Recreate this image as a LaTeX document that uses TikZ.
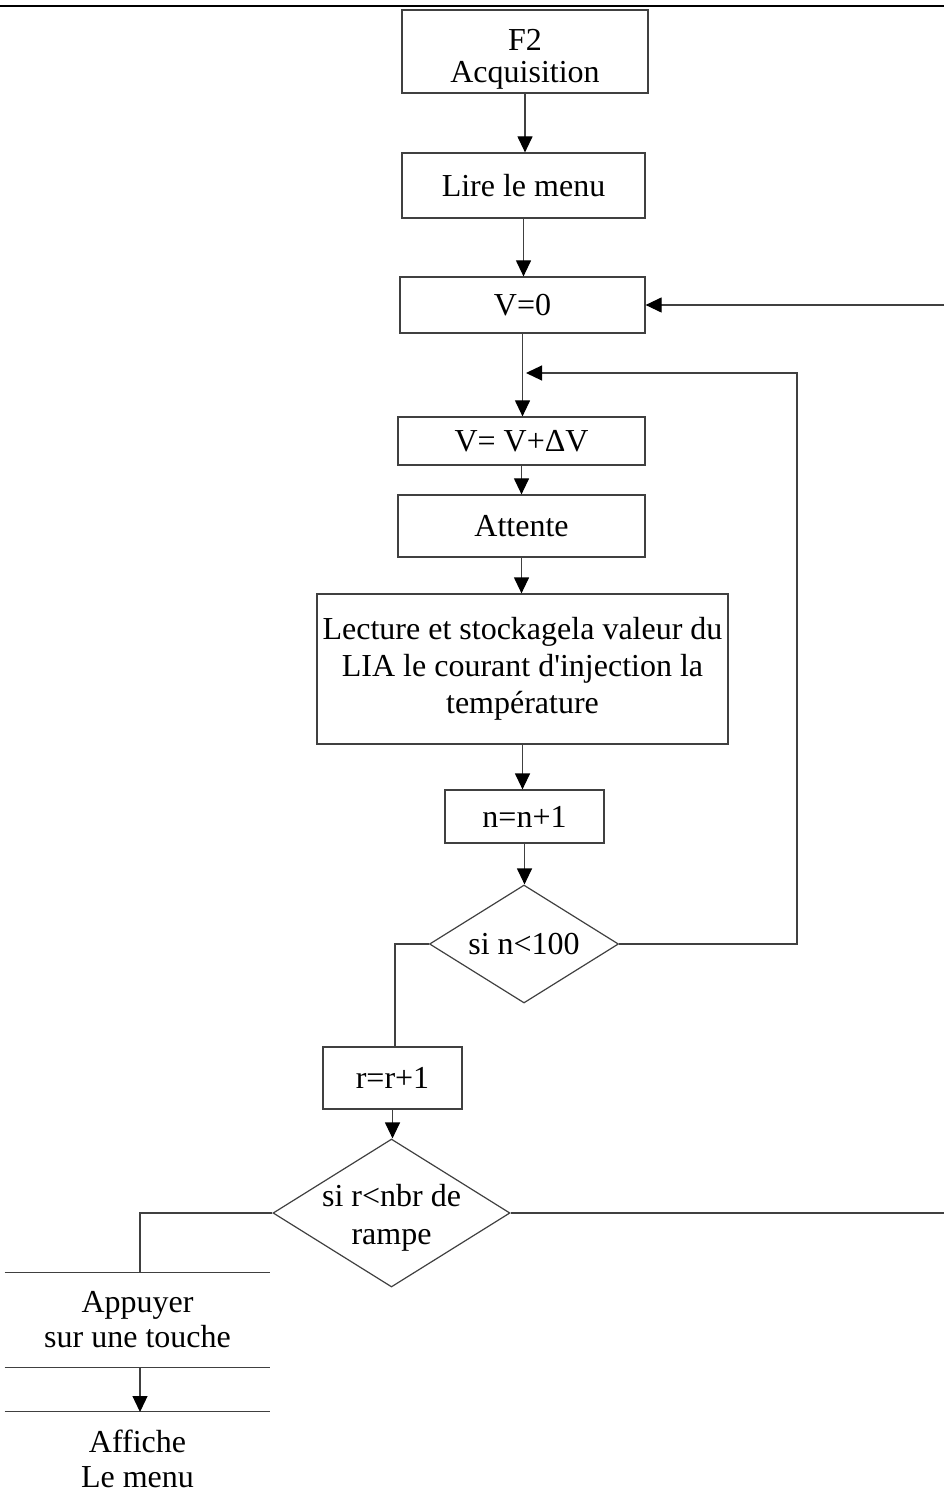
\documentclass[tikz,border=0pt]{standalone}
\usepackage{fontspec}
\setmainfont{Liberation Serif}
\usetikzlibrary{arrows.meta,shapes.geometric}
\definecolor{linec}{gray}{0.25}
\newcommand{\fs}{\fontsize{16}{18}\selectfont}
\tikzset{
  sz/.style 2 args={minimum width=#1*0.5pt, minimum height=#2*0.5pt},
  box/.style={draw=linec, line width=0.6pt, inner sep=0pt, align=center, font=\fs},
  plainbox/.style={inner sep=0pt, align=center, font=\fs},
  decision/.style={diamond, draw=linec, line width=0.6pt, inner sep=0pt, align=center, font=\fs, aspect=1.6},
  conn/.style={draw=linec, line width=0.6pt},
  arr/.style={conn, -{Triangle[width=7.5pt,length=8pt,color=black]}},
}
\begin{document}
\begin{tikzpicture}[x=0.5pt,y=-0.5pt]
\useasboundingbox (0,0) rectangle (944,1507);
\draw[line width=1.3pt] (0,6) -- (944,6);

\node[box, sz={246}{83}, label={[align=center, font=\fontsize{16}{16}\selectfont, yshift=-4pt]center:F2\\Acquisition}] (top) at (525,51.5) {};
\node[box, sz={243}{65}] (lire) at (523.5,185.5) {Lire le menu};
\node[box, sz={245}{56}] (v0) at (522.5,305) {V=0};
\node[box, sz={247}{48}] (vdv) at (521.5,441) {V= V+ΔV};
\node[box, sz={247}{62}] (att) at (521.5,526) {Attente};
\node[box, sz={411}{150}, font=\fontsize{16}{18.5}\selectfont] (lec) at (522.5,669) {Lecture et stockagela valeur du\\LIA le courant d\textquotesingle injection la\\température};
\node[box, sz={159}{53}] (nn) at (524.5,816.5) {n=n+1};
\node[decision, sz={189}{118}] (d1) at (524,944) {si n<100};
\node[box, sz={139}{62}] (rr) at (392.5,1078) {r=r+1};
\node[decision, sz={237}{148}, label={[align=center, font=\fontsize{16}{19}\selectfont, yshift=-2.5pt]center:si r<nbr de\\rampe}] (d2) at (391.5,1213) {};
\node[plainbox, sz={265}{94}, font=\fontsize{16}{17.5}\selectfont] (app) at (137.5,1320) {Appuyer\\sur une touche};
\node[plainbox, sz={265}{94}, font=\fontsize{16}{17.5}\selectfont] (aff) at (137.5,1459) {Affiche\\Le menu};
\draw[conn] (app.north west) -- (app.north east);
\draw[conn] (app.south west) -- (app.south east);
\draw[conn] (aff.north west) -- (aff.north east);

\coordinate (j1) at (526,373);
\coordinate (edgeT) at (944,305);
\coordinate (edgeB) at (944,1213);

\draw[arr] (top.south) -- (top.south |- lire.north);
\draw[arr] (lire.south) -- (lire.south |- v0.north);
\draw[arr] (v0.south) -- (v0.south |- vdv.north);
\draw[arr] (vdv.south) -- (vdv.south |- att.north);
\draw[arr] (att.south) -- (att.south |- lec.north);
\draw[arr] (lec.south) -- (lec.south |- nn.north);
\draw[arr] (nn.south) -- (nn.south |- d1.north);
\draw[arr] (d1.east) -- (797,944) -- (797,373) -- (j1);
\draw[conn] (d1.west) -- (395,944) -- (395,1047);
\draw[arr] (rr.south) -- (rr.south |- d2.north);
\draw[conn] (d2.west) -- (140,1213) -- (140,1273);
\draw[conn] (d2.east) -- (edgeB);
\draw[arr] (edgeT) -- (v0.east);
\draw[arr] (140,1367) -- (140,1412);
\end{tikzpicture}
\end{document}
